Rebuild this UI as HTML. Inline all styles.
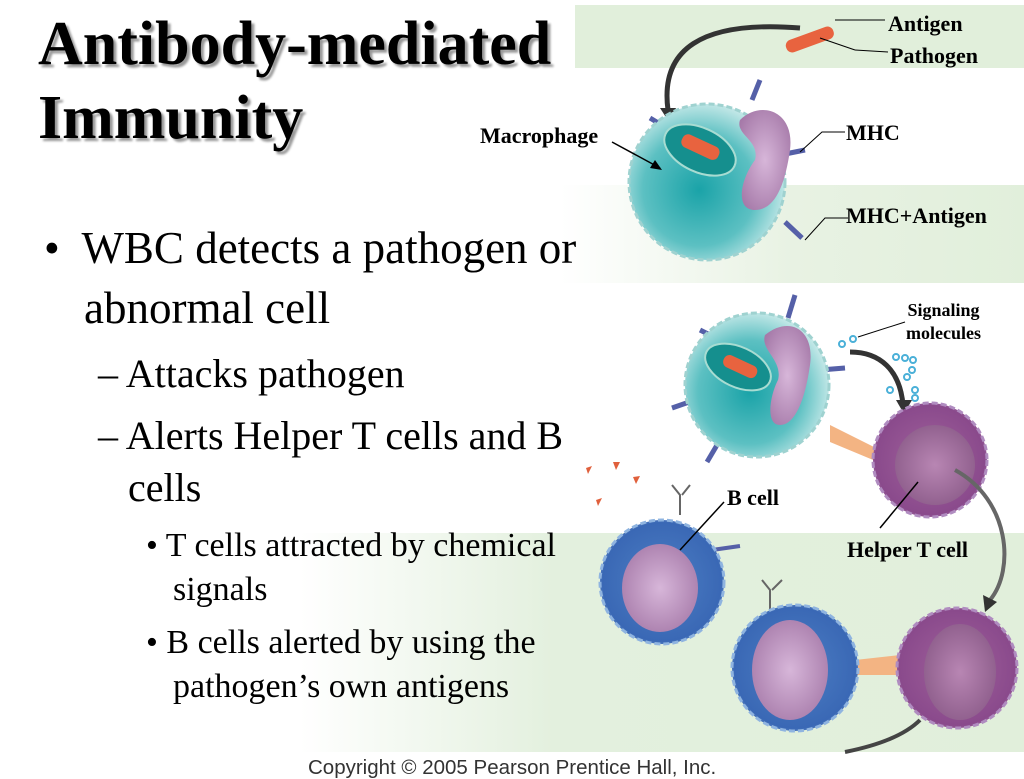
<!DOCTYPE html>
<html><head><meta charset="utf-8"><style>
body{margin:0;width:1024px;height:768px;overflow:hidden;background:#fff;position:relative;font-family:"Liberation Serif",serif}
.t{position:absolute;white-space:nowrap;color:#000;line-height:1}
.title{font-weight:bold;font-size:62px;text-shadow:3px 3px 2px #999;line-height:1}
.lbl{position:absolute;font-weight:bold;font-size:22px;font-family:"Liberation Serif",serif;line-height:1.1;white-space:nowrap}
</style></head><body>
<svg width="1024" height="768" style="position:absolute;left:0;top:0">
<defs>
<linearGradient id="bg" x1="0" x2="1"><stop offset="0" stop-color="#fff"/><stop offset="0.35" stop-color="#e3f0de"/><stop offset="1" stop-color="#e1efdb"/></linearGradient>
<linearGradient id="bg2" x1="0" x2="1"><stop offset="0" stop-color="#fff"/><stop offset="0.5" stop-color="#e8f2e3"/><stop offset="1" stop-color="#e1efdb"/></linearGradient>
<radialGradient id="mac" cx="0.45" cy="0.55" r="0.6"><stop offset="0" stop-color="#1aa3a8"/><stop offset="0.6" stop-color="#5cc0c2"/><stop offset="1" stop-color="#d8f0ef"/></radialGradient>
<radialGradient id="tc" cx="0.5" cy="0.5" r="0.6"><stop offset="0" stop-color="#a0619b"/><stop offset="0.8" stop-color="#8a4a8c"/><stop offset="1" stop-color="#c9a2cb"/></radialGradient>
<radialGradient id="bc" cx="0.5" cy="0.5" r="0.6"><stop offset="0" stop-color="#4d7fc4"/><stop offset="0.8" stop-color="#3a68b5"/><stop offset="1" stop-color="#9fc0e8"/></radialGradient>
<radialGradient id="nuc" cx="0.5" cy="0.5" r="0.6"><stop offset="0" stop-color="#d7b6d9"/><stop offset="1" stop-color="#a67aa9"/></radialGradient>
<radialGradient id="nuc2" cx="0.5" cy="0.5" r="0.6"><stop offset="0" stop-color="#b886b3"/><stop offset="1" stop-color="#8a5a88"/></radialGradient>
</defs>
<rect x="575" y="5" width="449" height="63" fill="#e1efdb"/>
<rect x="560" y="185" width="464" height="98" fill="url(#bg2)"/>
<rect x="300" y="533" width="724" height="219" fill="url(#bg)"/>
<path d="M800 28 C700 20 660 50 668 110" fill="none" stroke="#333" stroke-width="5"/>
<polygon points="660,108 676,108 669,122" fill="#333"/>
<g transform="rotate(-20 810 40)"><rect x="785" y="33" width="50" height="13" rx="6" fill="#e8633f"/></g>
<line x1="835" y1="20" x2="885" y2="20" stroke="#000"/><line x1="820" y1="38" x2="855" y2="50" stroke="#000"/><line x1="855" y1="50" x2="888" y2="52" stroke="#000"/>
<g stroke="#5560a8" stroke-width="5"><line x1="650" y1="118" x2="670" y2="130"/><line x1="760" y1="80" x2="752" y2="100"/><line x1="780" y1="155" x2="805" y2="150"/><line x1="632" y1="192" x2="652" y2="188"/><line x1="680" y1="225" x2="668" y2="245"/><line x1="785" y1="222" x2="802" y2="238"/></g>
<circle cx="707" cy="182" r="78" fill="url(#mac)" stroke="#9fd2d0" stroke-width="3" stroke-dasharray="6 3"/>
<ellipse cx="700" cy="150" rx="38" ry="22" transform="rotate(25 700 150)" fill="#158f8e" stroke="#a8dcd2" stroke-width="2"/>
<rect x="680" y="140" width="40" height="14" rx="6" transform="rotate(25 700 148)" fill="#e8633f"/>
<path d="M740 120 C760 100 795 110 790 150 C785 185 775 210 755 210 C735 210 740 180 755 160 C760 140 735 135 740 120Z" fill="url(#nuc)"/>
<line x1="612" y1="142" x2="660" y2="168" stroke="#000" stroke-width="1.5"/><polygon points="662,170 650,168 655,160" fill="#000"/>
<polyline points="800,152 822,132 845,132" fill="none" stroke="#000"/>
<polyline points="805,240 825,218 848,218" fill="none" stroke="#000"/>
<g stroke="#5560a8" stroke-width="5"><line x1="795" y1="295" x2="788" y2="318"/><line x1="700" y1="330" x2="720" y2="340"/><line x1="820" y1="370" x2="845" y2="368"/><line x1="672" y1="408" x2="695" y2="400"/><line x1="720" y1="440" x2="707" y2="462"/></g>
<circle cx="757" cy="385" r="72" fill="url(#mac)" stroke="#9fd2d0" stroke-width="3" stroke-dasharray="6 3"/>
<ellipse cx="738" cy="367" rx="35" ry="20" transform="rotate(25 738 367)" fill="#158f8e" stroke="#a8dcd2" stroke-width="2"/>
<rect x="722" y="360" width="36" height="13" rx="6" transform="rotate(25 740 367)" fill="#e8633f"/>
<path d="M765 335 C790 315 815 330 810 365 C805 400 795 425 780 425 C765 425 770 395 778 380 C783 360 760 350 765 335Z" fill="url(#nuc)"/>
<g fill="none" stroke="#4ab0d8" stroke-width="2"><circle cx="842" cy="344" r="3"/><circle cx="853" cy="339" r="3"/><circle cx="896" cy="357" r="3"/><circle cx="905" cy="358" r="3"/><circle cx="913" cy="360" r="3"/><circle cx="912" cy="370" r="3"/><circle cx="907" cy="377" r="3"/><circle cx="890" cy="390" r="3"/><circle cx="915" cy="390" r="3"/><circle cx="915" cy="398" r="3"/></g>
<line x1="858" y1="337" x2="905" y2="322" stroke="#000"/>
<path d="M850 352 C880 352 900 370 903 405" fill="none" stroke="#333" stroke-width="5"/>
<polygon points="896,400 912,400 904,414" fill="#333"/>
<polygon points="830,425 880,450 878,462 830,442" fill="#f3b483"/>
<circle cx="930" cy="460" r="57" fill="url(#tc)" stroke="#b08cc0" stroke-width="3" stroke-dasharray="6 3"/>
<circle cx="935" cy="465" r="40" fill="url(#nuc2)"/>
<line x1="880" y1="528" x2="918" y2="482" stroke="#000" stroke-width="1.5"/>
<path d="M955 470 C1010 500 1015 570 990 600" fill="none" stroke="#666" stroke-width="4"/>
<polygon points="983,595 997,602 985,612" fill="#333"/>
<g fill="#e0603c"><polygon points="586,468 592,466 588,474"/><polygon points="613,462 620,462 616,470"/><polygon points="633,477 640,476 636,484"/><polygon points="596,500 602,498 598,506"/></g>
<g stroke="#666" stroke-width="2" fill="none"><path d="M680 515 V495 L672 485 M682 495 L690 485"/></g>
<line x1="712" y1="550" x2="740" y2="546" stroke="#5560a8" stroke-width="4"/>
<circle cx="662" cy="582" r="62" fill="url(#bc)" stroke="#8fb4e0" stroke-width="3" stroke-dasharray="6 3"/>
<ellipse cx="660" cy="588" rx="38" ry="44" fill="url(#nuc)"/>
<line x1="724" y1="502" x2="680" y2="550" stroke="#000" stroke-width="1.5"/>
<g stroke="#666" stroke-width="2" fill="none"><path d="M770 612 V590 L762 580 M772 590 L782 580"/></g>
<polygon points="855,660 900,655 900,675 855,675" fill="#f3b483"/>
<circle cx="795" cy="668" r="63" fill="url(#bc)" stroke="#8fb4e0" stroke-width="3" stroke-dasharray="6 3"/>
<ellipse cx="790" cy="670" rx="38" ry="50" fill="url(#nuc)"/>
<circle cx="957" cy="668" r="60" fill="url(#tc)" stroke="#b08cc0" stroke-width="3" stroke-dasharray="6 3"/>
<ellipse cx="960" cy="672" rx="36" ry="48" fill="url(#nuc2)"/>
<path d="M920 720 C905 735 880 745 845 752" fill="none" stroke="#444" stroke-width="4"/>
</svg>
<div class="t title" style="left:38px;top:13px">Antibody-mediated</div>
<div class="t title" style="left:38px;top:87px">Immunity</div>
<div class="lbl" style="left:888px;top:12px">Antigen</div>
<div class="lbl" style="left:890px;top:44px">Pathogen</div>
<div class="lbl" style="left:480px;top:124px">Macrophage</div>
<div class="lbl" style="left:846px;top:121px">MHC</div>
<div class="lbl" style="left:846px;top:204px">MHC+Antigen</div>
<div class="lbl" style="left:906px;top:299px;font-size:18px;text-align:center;line-height:1.3">Signaling<br>molecules</div>
<div class="lbl" style="left:727px;top:486px">B cell</div>
<div class="lbl" style="left:847px;top:538px">Helper T cell</div>
<div class="t" style="left:44px;top:226px;font-size:45px">•&nbsp; WBC detects a pathogen or</div>
<div class="t" style="left:84px;top:286px;font-size:45px">abnormal cell</div>
<div class="t" style="left:98px;top:354px;font-size:40px">– Attacks pathogen</div>
<div class="t" style="left:98px;top:416px;font-size:40px">– Alerts Helper T cells and B</div>
<div class="t" style="left:128px;top:468px;font-size:40px">cells</div>
<div class="t" style="left:146px;top:529px;font-size:34px">• T cells attracted by chemical</div>
<div class="t" style="left:173px;top:573px;font-size:34px">signals</div>
<div class="t" style="left:146px;top:626px;font-size:34px">• B cells alerted by using the</div>
<div class="t" style="left:173px;top:670px;font-size:34px">pathogen’s own antigens</div>
<div class="t" style="left:308px;top:758px;font-size:20.5px;font-family:'Liberation Sans',sans-serif;color:#333">Copyright © 2005 Pearson Prentice Hall, Inc.</div>
</body></html>
